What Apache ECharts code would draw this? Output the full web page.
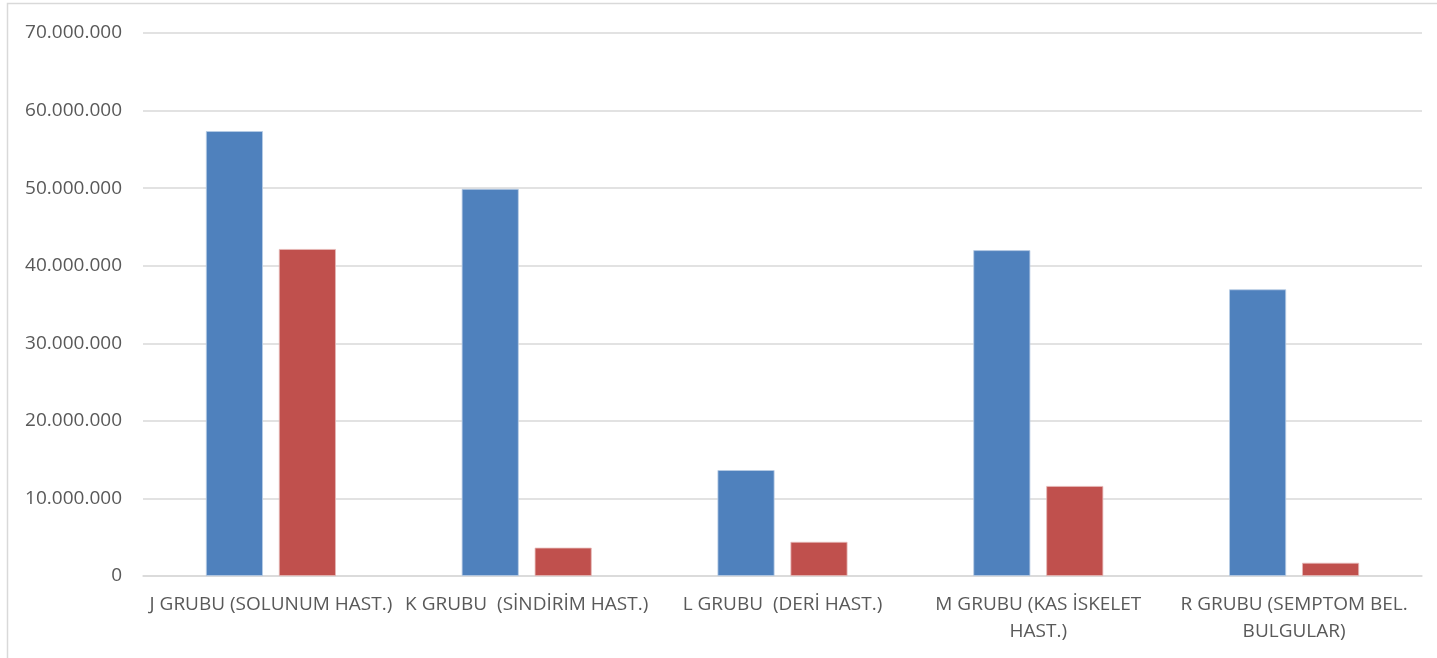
<!DOCTYPE html>
<html>
<head>
<meta charset="utf-8">
<script src="https://cdn.jsdelivr.net/npm/echarts@6/dist/echarts.min.js"></script>
<style>
  html, body { margin: 0; padding: 0; background: #ffffff; }
  #chart { width: 1437px; height: 658px; }
</style>
</head>
<body>
<div id="chart"></div>
<script>
// Disease groups on the x axis (two-line names wrap where shown)
const categories = [
  'J GRUBU (SOLUNUM HAST.)',
  'K GRUBU  (SİNDİRİM HAST.)',
  'L GRUBU  (DERİ HAST.)',
  'M GRUBU (KAS İSKELET\nHAST.)',
  'R GRUBU (SEMPTOM BEL.\nBULGULAR)'
];
// First series (blue)
const seriesA = [57350000, 49900000, 13650000, 42000000, 36950000];
// Second series (red)
const seriesB = [42150000, 3650000, 4400000, 11600000, 1700000];
// Value axis range
const yMin = 0;
const yMax = 70000000;
const yStep = 10000000;

function fmtDots(v) {
  return String(Math.round(v)).replace(/\B(?=(\d{3})+(?!\d))/g, '.');
}

const chart = echarts.init(document.getElementById('chart'), null, { renderer: 'canvas' });
const font = '"Open Sans", sans-serif';
chart.setOption({
  backgroundColor: '#ffffff',
  animation: false,
  graphic: [{
    type: 'rect',
    shape: { x: 7.5, y: 3.5, width: 1440, height: 660 },
    style: { fill: 'none', stroke: '#d9d9d9', lineWidth: 1.5 },
    silent: true
  }],
  grid: { left: 143, right: 15, top: 33, bottom: 82 },
  xAxis: {
    type: 'category',
    data: categories,
    axisLine: { show: true, lineStyle: { color: '#d9d9d9', width: 1.5 } },
    axisTick: { show: false },
    axisLabel: {
      color: '#595959',
      fontFamily: font,
      fontSize: 19,
      lineHeight: 27,
      margin: 15,
      interval: 0
    }
  },
  yAxis: {
    type: 'value',
    min: yMin,
    max: yMax,
    interval: yStep,
    axisLine: { show: false },
    axisTick: { show: false },
    splitLine: { lineStyle: { color: '#d9d9d9', width: 1.5 } },
    axisLabel: {
      color: '#595959',
      fontFamily: font,
      fontSize: 19,
      margin: 21,
      formatter: fmtDots
    }
  },
  series: [
    {
      type: 'bar',
      data: seriesA,
      barWidth: 57,
      barGap: '28%',
      itemStyle: { color: '#4f81bd', borderColor: '#b9cde5', borderWidth: 0.8 }
    },
    {
      type: 'bar',
      data: seriesB,
      barWidth: 57,
      barGap: '28%',
      itemStyle: { color: '#c0504d', borderColor: '#e6b9b8', borderWidth: 0.8 }
    }
  ]
});
</script>
</body>
</html>
